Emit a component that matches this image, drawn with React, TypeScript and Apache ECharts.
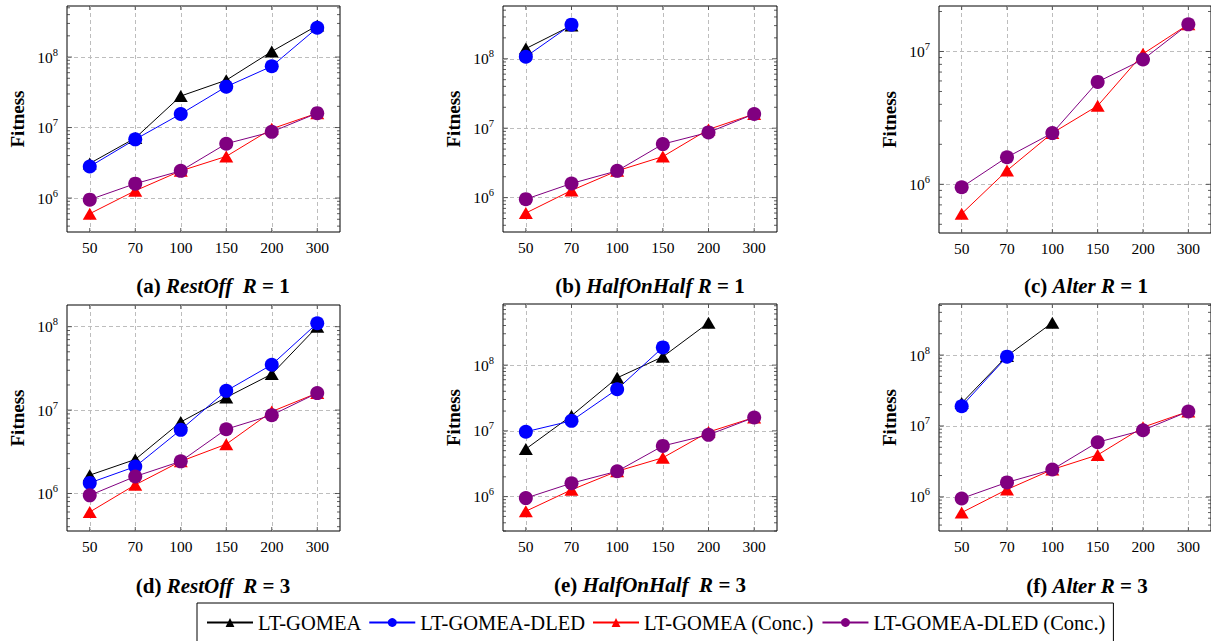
import React, { useEffect, useRef } from 'react';
import * as echarts from 'echarts';

// ---------- data ----------
const sizes = ['50', '70', '100', '150', '200', '300'];
const seriesNames = ['LT-GOMEA', 'LT-GOMEA-DLED', 'LT-GOMEA (Conc.)', 'LT-GOMEA-DLED (Conc.)'];
const seriesColors = ['#000000', '#0000ff', '#ff0000', '#800080'];
const seriesSymbols = ['triangle', 'circle', 'triangle', 'circle'];

// concurrent variants (same in every panel)
const concLT = [6.0e5, 1.27e6, 2.43e6, 3.9e6, 9.6e6, 1.6e7];
const concDLED = [9.5e5, 1.6e6, 2.43e6, 5.9e6, 8.7e6, 1.6e7];

// (a) RestOff R = 1
const restOffR1LT = [3.1e6, 7.1e6, 2.8e7, 4.7e7, 1.2e8, 2.8e8];
const restOffR1DLED = [2.8e6, 6.8e6, 1.56e7, 3.8e7, 7.4e7, 2.6e8];
// (b) HalfOnHalf R = 1
const halfR1LT = [1.4e8, 3.0e8, null, null, null, null];
const halfR1DLED = [1.07e8, 3.1e8, null, null, null, null];
// (c) Alter R = 1
const alterR1LT = [null, null, null, null, null, null];
const alterR1DLED = [null, null, null, null, null, null];
// (d) RestOff R = 3
const restOffR3LT = [1.66e6, 2.56e6, 7.2e6, 1.42e7, 2.7e7, 1.0e8];
const restOffR3DLED = [1.34e6, 2.1e6, 5.8e6, 1.7e7, 3.5e7, 1.1e8];
// (e) HalfOnHalf R = 3
const halfR3LT = [5.3e6, 1.7e7, 6.4e7, 1.34e8, 4.4e8, null];
const halfR3DLED = [9.7e6, 1.42e7, 4.3e7, 1.86e8, null, null];
// (f) Alter R = 3
const alterR3LT = [2.1e7, 9.7e7, 2.86e8, null, null, null];
const alterR3DLED = [1.9e7, 9.5e7, null, null, null, null];

const panelLT = [restOffR1LT, halfR1LT, alterR1LT, restOffR3LT, halfR3LT, alterR3LT];
const panelDLED = [restOffR1DLED, halfR1DLED, alterR1DLED, restOffR3DLED, halfR3DLED, alterR3DLED];

// y-axis ranges per panel
const yMin = [3.3e5, 3.2e5, 4.3e5, 3.55e5, 3.0e5, 3.3e5];
const yMax = [5.3e8, 5.75e8, 2.2e7, 1.82e8, 8.5e8, 5.25e8];

// tick positions for log axes
const decades = [1e5, 1e6, 1e7, 1e8, 1e9];
const minorMultipliers = [2, 3, 4, 5, 6, 7, 8, 9];

const captions = [
  '{n|(a) }{i|RestOff}{n|  }{i|R}{n| = 1}',
  '{n|(b) }{i|HalfOnHalf}{n| }{i|R}{n| = 1}',
  '{n|(c) }{i|Alter}{n| }{i|R}{n| = 1}',
  '{n|(d) }{i|RestOff}{n|  }{i|R}{n| = 3}',
  '{n|(e) }{i|HalfOnHalf}{n|  }{i|R}{n| = 3}',
  '{n|(f) }{i|Alter}{n| }{i|R}{n| = 3}',
];

// ---------- layout ----------
const grids = [
  { left: 67, top: 6, width: 273, height: 226 },
  { left: 503, top: 6, width: 274, height: 226 },
  { left: 939, top: 6, width: 274, height: 227 },
  { left: 67, top: 305, width: 273, height: 226 },
  { left: 503, top: 304, width: 274, height: 227 },
  { left: 939, top: 304, width: 274, height: 227 },
];
const captionPos = [
  [213, 286],
  [650, 286],
  [1086, 286],
  [213, 586],
  [650, 585],
  [1087, 586],
];

const FONT = 'Liberation Serif';

function makeTickRenderer(len: number) {
  return (params: any, api: any) => {
    const cs = params.coordSys;
    const y = api.coord([0, api.value(1)])[1];
    const style = { stroke: '#333', lineWidth: 0.8 };
    return {
      type: 'group',
      children: [
        { type: 'line', shape: { x1: cs.x, y1: y, x2: cs.x + len, y2: y }, style },
        { type: 'line', shape: { x1: cs.x + cs.width - len, y1: y, x2: cs.x + cs.width, y2: y }, style },
      ],
    };
  };
}

function xTickRenderer(params: any, api: any) {
  const cs = params.coordSys;
  const x = api.coord([api.value(0), api.value(1)])[0];
  const style = { stroke: '#333', lineWidth: 0.8 };
  return {
    type: 'group',
    children: [
      { type: 'line', shape: { x1: x, y1: cs.y + cs.height, x2: x, y2: cs.y + cs.height - 4 }, style },
      { type: 'line', shape: { x1: x, y1: cs.y, x2: x, y2: cs.y + 4 }, style },
    ],
  };
}

function buildOption() {
  const grid: any[] = [];
  const xAxis: any[] = [];
  const yAxis: any[] = [];
  const series: any[] = [];
  const graphic: any[] = [];

  for (let p = 0; p < 6; p++) {
    grid.push({
      ...grids[p],
      show: true,
      borderColor: '#000',
      borderWidth: 1,
      backgroundColor: 'transparent',
      containLabel: false,
    });
    xAxis.push({
      type: 'category',
      gridIndex: p,
      data: sizes,
      boundaryGap: true,
      axisLine: { show: false },
      axisTick: { show: false },
      axisLabel: { interval: 0, margin: 7, fontFamily: FONT, fontSize: 15.5, color: '#000' },
      splitLine: {
        show: true,
        alignWithLabel: true,
        lineStyle: { color: '#bdbdbd', width: 1, type: [4, 3] },
      },
    });
    yAxis.push({
      type: 'log',
      logBase: 10,
      gridIndex: p,
      min: yMin[p],
      max: yMax[p],
      name: 'Fitness',
      nameLocation: 'middle',
      nameGap: 40,
      nameTextStyle: { fontFamily: FONT, fontSize: 19, fontWeight: 'bold', color: '#000' },
      axisLine: { show: false },
      axisTick: { show: false },
      axisLabel: {
        margin: 9,
        showMinLabel: false,
        showMaxLabel: false,
        formatter: (v: number) => {
          const lg = Math.log10(v);
          const e = Math.round(lg);
          if (Math.abs(lg - e) > 1e-6) return '';
          return '{b|10}{s|' + e + '}';
        },
        rich: {
          b: { fontFamily: FONT, fontSize: 15.5, color: '#000' },
          s: { fontFamily: FONT, fontSize: 10.5, color: '#000', padding: [0, 0, 10, 0] },
        },
      },
      splitLine: {
        show: true,
        showMinLine: false,
        showMaxLine: false,
        lineStyle: { color: '#bdbdbd', width: 1, type: [4, 3] },
      },
    });

    const dataSets = [panelLT[p], panelDLED[p], concLT, concDLED];
    for (let s = 0; s < 4; s++) {
      series.push({
        type: 'line',
        name: seriesNames[s],
        xAxisIndex: p,
        yAxisIndex: p,
        data: dataSets[s],
        connectNulls: false,
        symbol: seriesSymbols[s],
        symbolSize: seriesSymbols[s] === 'circle' ? 14 : [14, 12],
        showAllSymbol: true,
        itemStyle: { color: seriesColors[s] },
        lineStyle: { color: seriesColors[s], width: 1 },
        emphasis: { disabled: true },
      });
    }

    // ticks
    const major: number[][] = [];
    const minor: number[][] = [];
    decades.forEach((d) => {
      if (d >= yMin[p] && d <= yMax[p]) major.push([0, d]);
      minorMultipliers.forEach((m) => {
        const v = d * m;
        if (v >= yMin[p] && v <= yMax[p]) minor.push([0, v]);
      });
    });
    series.push({
      type: 'custom',
      name: 'majorTicks' + p,
      xAxisIndex: p,
      yAxisIndex: p,
      data: major,
      renderItem: makeTickRenderer(5),
      silent: true,
      z: 5,
    });
    series.push({
      type: 'custom',
      name: 'minorTicks' + p,
      xAxisIndex: p,
      yAxisIndex: p,
      data: minor,
      renderItem: makeTickRenderer(3),
      silent: true,
      z: 5,
    });
    series.push({
      type: 'custom',
      name: 'xTicks' + p,
      xAxisIndex: p,
      yAxisIndex: p,
      data: sizes.map((_, i) => [i, yMin[p]]),
      renderItem: xTickRenderer,
      silent: true,
      z: 5,
    });

    graphic.push({
      type: 'text',
      x: captionPos[p][0],
      y: captionPos[p][1],
      silent: true,
      style: {
        text: captions[p],
        align: 'center',
        verticalAlign: 'middle',
        rich: {
          n: { fontFamily: FONT, fontSize: 21, fontWeight: 'bold', fill: '#000', color: '#000' },
          i: { fontFamily: FONT, fontSize: 21, fontWeight: 'bold', fontStyle: 'italic', fill: '#000', color: '#000' },
        },
      },
    });
  }

  return {
    animation: false,
    backgroundColor: '#ffffff',
    grid,
    xAxis,
    yAxis,
    series,
    graphic,
    legend: {
      data: seriesNames,
      left: 197,
      top: 603,
      orient: 'horizontal',
      itemWidth: 46,
      itemHeight: 11,
      itemGap: 7,
      padding: [9, 8, 20, 9],
      borderColor: '#000',
      borderWidth: 1,
      borderRadius: 0,
      backgroundColor: '#fff',
      selectedMode: false,
      textStyle: { fontFamily: FONT, fontSize: 20.5, color: '#000' },
    },
  };
}

export default function App() {
  const ref = useRef<HTMLDivElement>(null);
  useEffect(() => {
    document.body.style.margin = '0';
    if (!ref.current) return;
    const chart = echarts.init(ref.current, undefined, { renderer: 'svg' });
    chart.setOption(buildOption() as any);
    return () => chart.dispose();
  }, []);
  return <div ref={ref} style={{ width: 1211, height: 641 }} />;
}
